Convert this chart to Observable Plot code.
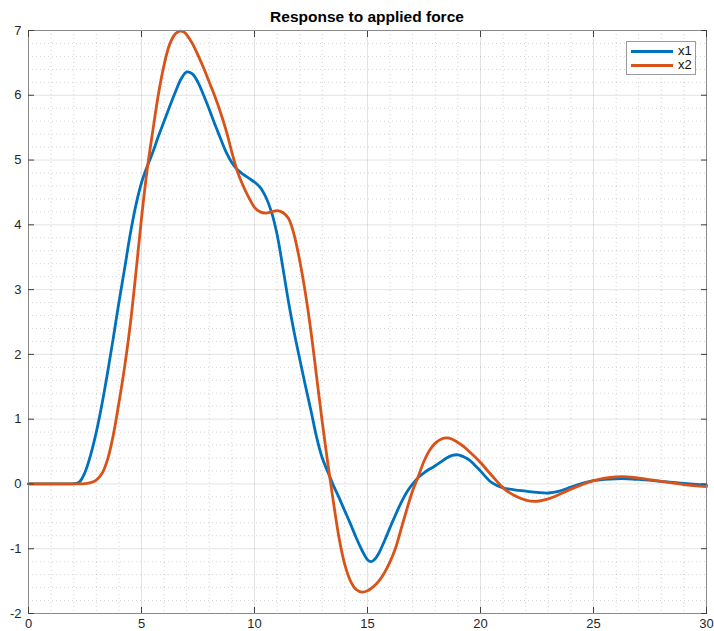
<!DOCTYPE html>
<html><head><meta charset="utf-8">
<script src="https://cdn.jsdelivr.net/npm/d3@7"></script>
<script src="https://cdn.jsdelivr.net/npm/@observablehq/plot@0.6"></script>
<style>
body{margin:0;background:#fff;font-family:"Liberation Sans",Arial,Helvetica,sans-serif;}
#wrap{position:relative;width:714px;height:631px;}
#wrap svg{display:block;}
#title{position:absolute;left:28px;width:678px;top:9px;text-align:center;font-weight:bold;font-size:15.5px;color:#000;line-height:16px;}
#legend{position:absolute;left:626px;top:41px;width:68px;height:32px;border:1px solid #9a9a9a;background:#fff;font-size:13px;color:#111;}
.row{position:absolute;left:3px;height:14px;}
.swatch{position:absolute;left:1px;top:6px;width:42px;height:3px;}
.lab{position:absolute;left:48px;top:-1px;line-height:15px;}
</style></head><body>
<div id="wrap"><div id="title">Response to applied force</div><div id="legend"></div></div>
<script>
// series x1 (time, value)
const t1 = [0, 0.5, 1.0, 1.5, 1.8, 2.0, 2.25, 2.5, 2.75, 3.0, 3.25, 3.5, 3.75, 4.0, 4.25, 4.5, 4.75, 5.0, 5.25, 5.5, 5.75, 6.0, 6.25, 6.5, 6.75, 7.0, 7.25, 7.5, 7.75, 8.0, 8.25, 8.5, 8.75, 9.0, 9.25, 9.5, 9.75, 10.0, 10.25, 10.5, 10.75, 11.0, 11.25, 11.5, 11.75, 12.0, 12.25, 12.5, 12.75, 13.0, 13.25, 13.5, 13.75, 14.0, 14.25, 14.5, 14.75, 15.0, 15.15, 15.3, 15.5, 15.75, 16.0, 16.25, 16.5, 16.75, 17.0, 17.25, 17.5, 17.75, 18.0, 18.25, 18.5, 18.75, 19.0, 19.25, 19.5, 19.75, 20.0, 20.5, 21.0, 21.5, 22.0, 22.5, 23.0, 23.5, 24.0, 24.5, 25.0, 25.5, 26.0, 26.5, 27.0, 28.0, 29.0, 30.0];
const x1 = [0, 0, 0, 0, 0, 0.003, 0.03, 0.18, 0.45, 0.8, 1.23, 1.72, 2.25, 2.8, 3.32, 3.85, 4.3, 4.65, 4.9, 5.12, 5.37, 5.6, 5.83, 6.05, 6.25, 6.36, 6.33, 6.2, 6.0, 5.78, 5.55, 5.33, 5.12, 4.96, 4.85, 4.78, 4.72, 4.66, 4.58, 4.43, 4.2, 3.85, 3.35, 2.82, 2.35, 1.93, 1.52, 1.13, 0.72, 0.4, 0.18, -0.03, -0.22, -0.42, -0.62, -0.83, -1.02, -1.17, -1.2, -1.17, -1.07, -0.88, -0.67, -0.47, -0.28, -0.12, 0.0, 0.1, 0.17, 0.23, 0.28, 0.34, 0.4, 0.44, 0.45, 0.42, 0.37, 0.29, 0.2, 0.02, -0.06, -0.09, -0.11, -0.13, -0.14, -0.11, -0.05, 0.01, 0.05, 0.07, 0.08, 0.08, 0.07, 0.04, 0.01, -0.02];
// series x2
const t2 = [0, 0.5, 1.0, 1.5, 2.0, 2.3, 2.5, 2.75, 3.0, 3.25, 3.5, 3.75, 4.0, 4.25, 4.5, 4.75, 5.0, 5.25, 5.5, 5.75, 6.0, 6.25, 6.5, 6.7, 6.9, 7.25, 7.5, 7.75, 8.0, 8.25, 8.5, 8.75, 9.0, 9.25, 9.5, 9.75, 10.0, 10.25, 10.5, 10.75, 11.0, 11.25, 11.5, 11.75, 12.0, 12.25, 12.5, 12.75, 13.0, 13.25, 13.5, 13.75, 14.0, 14.25, 14.5, 14.75, 15.0, 15.25, 15.5, 15.75, 16.0, 16.25, 16.5, 16.75, 17.0, 17.25, 17.5, 17.75, 18.0, 18.25, 18.5, 18.75, 19.0, 19.25, 19.5, 19.75, 20.0, 20.5, 21.0, 21.5, 22.0, 22.4, 23.0, 23.5, 24.0, 24.5, 25.0, 25.5, 26.0, 26.5, 27.0, 28.0, 29.0, 30.0];
const x2 = [0, 0, 0, 0, 0, 0.001, 0.005, 0.02, 0.06, 0.16, 0.38, 0.75, 1.25, 1.8, 2.45, 3.25, 4.1, 4.85, 5.45, 6.02, 6.47, 6.79, 6.95, 6.99, 6.97, 6.8, 6.62, 6.42, 6.2, 5.98, 5.73, 5.45, 5.12, 4.82, 4.6, 4.42, 4.27, 4.2, 4.18, 4.2, 4.22, 4.19, 4.1, 3.85, 3.45, 2.95, 2.35, 1.65, 0.95, 0.3, -0.3, -0.85, -1.25, -1.5, -1.63, -1.67, -1.65, -1.59, -1.5, -1.37, -1.2, -0.98, -0.68, -0.38, -0.1, 0.12, 0.35, 0.52, 0.63, 0.69, 0.71, 0.69, 0.64, 0.58, 0.5, 0.42, 0.33, 0.13, -0.06, -0.18, -0.25, -0.27, -0.23, -0.16, -0.08, -0.01, 0.05, 0.09, 0.11, 0.11, 0.09, 0.04, -0.01, -0.04];

const seriesNames = ["x1", "x2"];
const seriesColors = ["#0072BD", "#D95319"];
const xTicks = [0, 5, 10, 15, 20, 25, 30];
const yTicks = [-2, -1, 0, 1, 2, 3, 4, 5, 6, 7];
const xMinor = d3.range(0, 31, 1).filter(v => v % 5 !== 0);
const yMinor = d3.range(-2, 7.001, 0.2).map(v => +v.toFixed(1)).filter(v => Math.abs(v - Math.round(v)) > 1e-6);
const fmt = d => String(d);

const data = [
  ...t1.map((t, i) => ({t, v: x1[i], s: seriesNames[0]})),
  ...t2.map((t, i) => ({t, v: x2[i], s: seriesNames[1]}))
];

const tickColor = "#404040";
const chart = Plot.plot({
  width: 714,
  height: 631,
  marginLeft: 28,
  marginRight: 8,
  marginTop: 30,
  marginBottom: 18,
  style: {fontFamily: "'Liberation Sans', Arial, sans-serif", fontSize: "13px", color: "#262626", background: "#fff", overflow: "visible"},
  x: {domain: [0, 30], label: null},
  y: {domain: [-2, 7], label: null},
  color: {domain: seriesNames, range: seriesColors},
  marks: [
    Plot.gridX(xMinor, {stroke: "#262626", strokeOpacity: 0.2, strokeDasharray: "1,3"}),
    Plot.gridY(yMinor, {stroke: "#262626", strokeOpacity: 0.2, strokeDasharray: "1,3"}),
    Plot.gridX(xTicks, {stroke: "#262626", strokeOpacity: 0.13}),
    Plot.gridY(yTicks, {stroke: "#262626", strokeOpacity: 0.13}),
    Plot.line(data, {x: "t", y: "v", z: "s", stroke: "s", strokeWidth: 2.8, curve: "catmull-rom"}),
    Plot.frame({stroke: "#8a8a8a", strokeWidth: 1}),
    Plot.axisX(xTicks, {anchor: "bottom", tickSize: 0, tickPadding: 5, fill: "#262626", fontSize: 13, tickFormat: fmt, label: null}),
    Plot.axisY(yTicks, {anchor: "left", tickSize: 0, tickPadding: 7, fill: "#262626", fontSize: 13, tickFormat: fmt, label: null}),
    Plot.axisX(xTicks, {anchor: "bottom", tickSize: 6, dy: -6, tickFormat: () => "", stroke: tickColor, label: null}),
    Plot.axisX(xTicks, {anchor: "top", tickSize: 6, dy: 6, tickFormat: () => "", stroke: tickColor, label: null}),
    Plot.axisY(yTicks, {anchor: "left", tickSize: 6, dx: 6, tickFormat: () => "", stroke: tickColor, label: null}),
    Plot.axisY(yTicks, {anchor: "right", tickSize: 6, dx: -6, tickFormat: () => "", stroke: tickColor, label: null})
  ]
});
document.getElementById("wrap").prepend(chart);

const legend = document.getElementById("legend");
seriesNames.forEach((name, i) => {
  const row = document.createElement("div");
  row.className = "row";
  row.style.top = (2 + i * 14) + "px";
  row.innerHTML = `<div class="swatch" style="background:${seriesColors[i]}"></div><div class="lab">${name}</div>`;
  legend.appendChild(row);
});
</script>
</body></html>
